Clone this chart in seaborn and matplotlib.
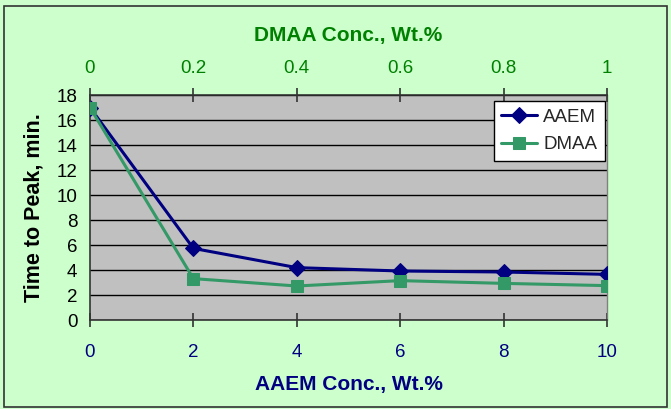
import matplotlib
matplotlib.use("Agg")
import matplotlib.pyplot as plt
import seaborn as sns
import pandas as pd
from matplotlib.patches import Rectangle

# Data
aaem_conc = [0, 2, 4, 6, 8, 10]
aaem_time = [17.0, 5.73, 4.19, 3.92, 3.84, 3.65]
dmaa_conc = [0, 0.2, 0.4, 0.6, 0.8, 1.0]
dmaa_time = [17.0, 3.31, 2.72, 3.15, 2.93, 2.75]
y_ticks = list(range(0, 19, 2))

sns.set_theme(style="white")
plt.rcParams["font.family"] = ["Liberation Sans", "DejaVu Sans"]

bg = "#CCFFCC"
plot_bg = "#C0C0C0"
navy = "#000080"
green = "#339966"
dkgreen = "#008000"

fig = plt.figure(figsize=(6.71, 4.09), dpi=100, facecolor=bg)
fig.patches.append(Rectangle((0.006, 0.006), 0.988, 0.98, transform=fig.transFigure,
                             fill=False, edgecolor="#333333", linewidth=1.2))
ax = fig.add_axes([0.1341, 0.2176, 0.9046 - 0.1341, 0.7677 - 0.2176])
ax.set_facecolor(plot_bg)
ax2 = ax.twiny()

df_a = pd.DataFrame({"conc": aaem_conc, "time": aaem_time})
df_d = pd.DataFrame({"conc": dmaa_conc, "time": dmaa_time})

sns.lineplot(data=df_a, x="conc", y="time", ax=ax, color=navy, marker="D",
             markersize=8, linewidth=2.2, markeredgecolor=navy, label="AAEM",
             legend=False, zorder=5)
sns.lineplot(data=df_d, x="conc", y="time", ax=ax2, color=green, marker="s",
             markersize=9, linewidth=2.2, markeredgecolor=green, label="DMAA",
             legend=False, zorder=4)

ax.set_xlim(0, 10)
ax2.set_xlim(0, 1)
ax.set_ylim(0, 18)
ax.set_xticks(aaem_conc)
ax2.set_xticks(dmaa_conc)
ax2.set_xticklabels(["0", "0.2", "0.4", "0.6", "0.8", "1"])
ax.set_yticks(y_ticks)

ax.yaxis.grid(True, color="black", linewidth=1.0)
ax.set_axisbelow(True)

for sp in ["left", "bottom"]:
    ax.spines[sp].set_color("#333333")
    ax.spines[sp].set_linewidth(1.2)
ax.spines["right"].set_color("#808080")
ax.spines["right"].set_linewidth(1.0)
ax.spines["top"].set_visible(False)
for sp in ["left", "bottom", "right"]:
    ax2.spines[sp].set_visible(False)
ax2.spines["top"].set_color("#333333")
ax2.spines["top"].set_linewidth(1.2)

ax.tick_params(axis="x", direction="inout", length=10, width=1.2, color="#333333",
               labelsize=13.5, labelcolor=navy, pad=12)
ax.tick_params(axis="y", direction="inout", length=10, width=1.2, color="#333333",
               labelsize=13.5, labelcolor="black", pad=4)
ax2.tick_params(axis="x", direction="inout", length=10, width=1.2, color="#333333",
                labelsize=13.5, labelcolor=dkgreen, pad=8)

ax.set_xlabel("AAEM Conc., Wt.%", fontsize=15, fontweight="bold", color=navy, labelpad=10)
ax2.set_xlabel("DMAA Conc., Wt.%", fontsize=15, fontweight="bold", color=dkgreen, labelpad=14)
ax.set_ylabel("Time to Peak, min.", fontsize=15.5, fontweight="bold", color="black", labelpad=9)

h1, l1 = ax.get_legend_handles_labels()
h2, l2 = ax2.get_legend_handles_labels()
leg = ax2.legend(h1 + h2, l1 + l2, loc="upper right", bbox_to_anchor=(0.996, 0.973),
                 borderaxespad=0, fontsize=13.5, frameon=True, fancybox=False,
                 shadow=False, framealpha=1, edgecolor="black", borderpad=0.4,
                 handlelength=1.9, labelspacing=0.55, handletextpad=0.35)
leg.get_frame().set_linewidth(1.0)

fig.savefig("out.png", dpi=100, facecolor=bg)
